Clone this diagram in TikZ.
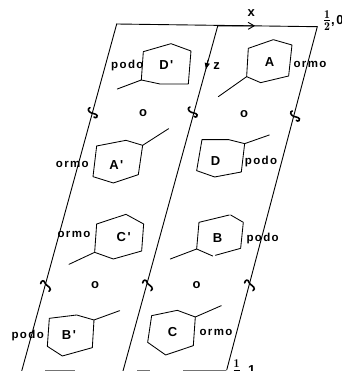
\documentclass[tikz,border=0pt]{standalone}
\usepackage{fontspec}
\newfontfamily\lab[LetterSpace=12]{Liberation Sans Bold}
\usetikzlibrary{arrows.meta}
\tikzset{
  ink/.style={line width=0.85pt,black,line join=round,line cap=round},
  cell/.style={line width=0.9pt,black,line cap=round},
  txt/.style={inner sep=0pt,font=\lab\fontsize{11.5}{12}\selectfont},
  sym/.style={inner sep=0pt,font=\lab\fontsize{13}{13}\selectfont},
  frc/.style={inner sep=0pt,font=\lab\bfseries\fontsize{17}{17}\selectfont},
  squig/.style={line width=1.6pt,black,line cap=round}
}
\newcommand{\upS}[1]{\draw[squig,shift={#1}] (-10,-14) .. controls (-18,-12) and (-16,-2) .. (-6,2) .. controls (4,5) and (16,6) .. (10,15) .. controls (8,17) and (4,16) .. (2,14);}
\newcommand{\loS}[1]{\draw[squig,shift={#1}] (-15,-6) .. controls (-14,-16) and (-4,-18) .. (-2,-8) .. controls (0,0) and (14,2) .. (14,12) .. controls (14,16) and (12,17) .. (10,17);}
\begin{document}
\begin{tikzpicture}[x=1pt,y=-1pt]
\useasboundingbox (0,0) rectangle (341,371);
\clip (0,0) rectangle (341,371);
% cell lines
\coordinate (tl) at (116.7,24);
\coordinate (tm) at (217.7,26);
\coordinate (tr) at (317.3,26.7);
\coordinate (bl) at (21.7,371);
\coordinate (bm) at (123,371);
\coordinate (br) at (226.7,370);
\draw[cell] (tl) -- (bl);
\draw[cell] (tm) -- (bm);
\draw[cell] (tr) -- (br);
\draw[cell] (tl) -- (tr);
\draw[cell,-{Straight Barb[length=6pt,width=7pt]}] (tm) -- (255,25.8);
\draw[cell,-{Latex[length=7pt,width=5.5pt]}] (208,60) -- (205.7,70);
% faint bottom edge
\draw[line width=0.7pt,black!55] (45,370.5) -- (75,370.5) (137,370.5) -- (150,370.5) (183,370.5) -- (226,370.5);
\begin{scope}[x=0.3333pt,y=-0.3333pt]
 \draw[ink] (424,240) -- (430,155) -- (513,131) -- (573,153) -- (565,252) -- (480,252) -- cycle;
 \draw[ink] (424,240) -- (352,267);
 \draw[ink] (740,230) -- (745,145) -- (820,119) -- (876,135) -- (866,228) -- (782,248) -- cycle;
 \draw[ink] (740,230) -- (655,290);
 \draw[ink] (428,436) -- (378,421) -- (290,438) -- (279,530) -- (340,549) -- (415,524) -- cycle;
 \draw[ink] (428,436) -- (506,386);
 \draw[ink] (734,431) -- (686,419) -- (606,419) -- (590,512) -- (644,531) -- (724,516) -- cycle;
 \draw[ink] (734,431) -- (808,405);
 \upS{(280,337)} \upS{(580,335)} \upS{(887,347)}
 \node[txt] (lpodoD) at (382,197) {podo};
 \node[sym] (lDp) at (499,195) {D'};
 \node[sym] (lz) at (650,198) {z};
 \node[sym] (lA) at (809,187) {A};
 \node[txt] (lormoA) at (930,193) {ormo};
 \node[sym] (o1) at (429,339) {o};
 \node[sym] (o2) at (732,341) {o};
 \node[sym] (lAp) at (349,494) {A'};
 \node[txt] (lormoAp) at (217,494) {ormo};
 \node[sym] (lD) at (647,484) {D};
 \node[txt] (lpodoDd) at (783,484) {podo};
 \node[sym] (lx) at (754,40) {x};
 \node[frc,anchor=west] (lhalf) at (968,62) {$\frac{\mathbf{1}}{\mathbf{2}}${\fontsize{13}{13}\selectfont ,0}};
\end{scope}
\begin{scope}[x=0.3333pt,y=-0.3333pt,yshift=-185pt]
 \draw[ink] (284,202) -- (290,117) -- (378,88) -- (431,117) -- (425,198) -- (340,222) -- cycle;
 \draw[ink] (284,202) -- (207,238);
 \draw[ink] (638,213) -- (590,192) -- (597,112) -- (688,90);
 \draw[ink] (692,90) -- (730,112) -- (722,190) -- (646,211);
 \draw[ink] (590,192) -- (511,222);
 \draw[ink] (282,405) -- (230,390) -- (148,400) -- (142,484) -- (187,513) -- (277,488) -- cycle;
 \draw[ink] (282,405) -- (359,377);
 \draw[ink] (586,396) -- (532,376) -- (455,392) -- (443,472) -- (497,510) -- (580,482) -- cycle;
 \draw[ink] (586,396) -- (664,362);
 \loS{(137,302)} \loS{(443,300)} \loS{(749,300)}
 \node[txt] (lormoC) at (222,149) {ormo};
 \node[sym] (lCp) at (371,156) {C'};
 \node[sym] (lB) at (653,158) {B};
 \node[txt] (lpodoB) at (788,161) {podo};
 \node[sym] (o3) at (285,301) {o};
 \node[sym] (o4) at (590,300) {o};
 \node[sym] (lBp) at (207,451) {B'};
 \node[txt] (lpodoBp) at (83,452) {podo};
 \node[sym] (lC) at (518,440) {C};
 \node[txt] (lormoCc) at (648,441) {ormo};
 \node[frc,anchor=north west] (lquarter) at (697,525) {$\frac{\mathbf{1}}{\mathbf{4}}${\fontsize{13}{13}\selectfont\,,1}};
\end{scope}
\end{tikzpicture}
\end{document}
